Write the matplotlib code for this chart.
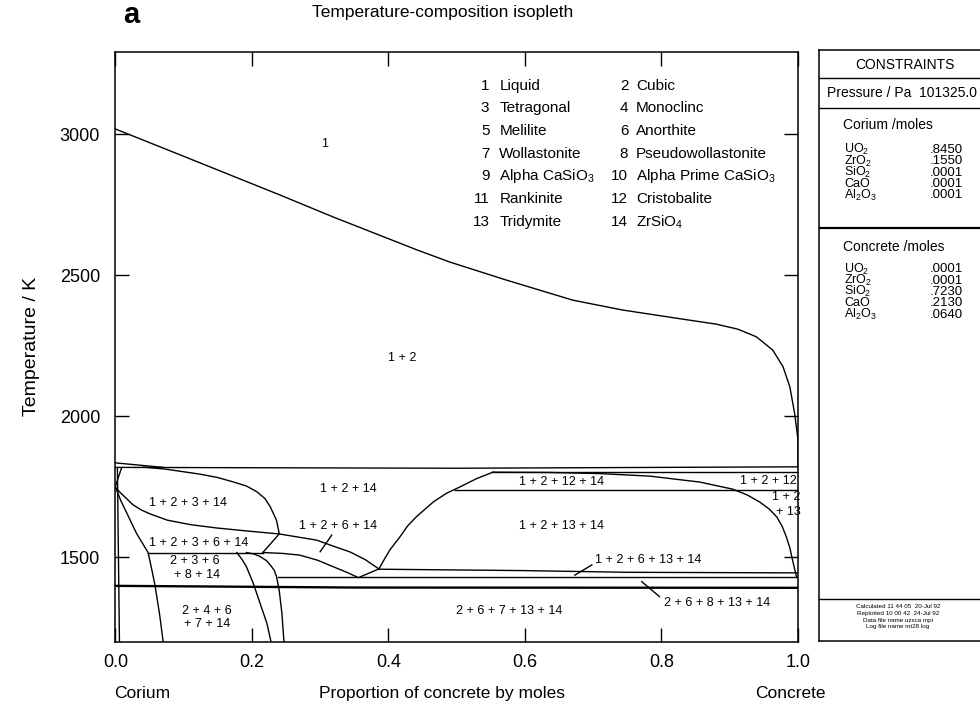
import matplotlib.pyplot as plt

plt.rcParams['font.family'] = ['Liberation Sans', 'DejaVu Sans']
plt.rcParams['mathtext.fontset'] = 'custom'
plt.rcParams['mathtext.rm'] = 'Liberation Sans'
plt.rcParams['mathtext.it'] = 'Liberation Sans'

# phase boundaries: proportion of concrete (x) vs temperature / K
liquidus_x = [0.0, 0.095, 0.241, 0.319, 0.442, 0.490, 0.573, 0.670, 0.743, 0.841, 0.880, 0.912,
              0.939, 0.963, 0.978, 0.988, 0.995, 1.0, 1.0]
liquidus_T = [3018, 2926, 2784, 2706, 2589, 2546, 2482, 2411, 2376, 2340, 2326, 2308,
              2281, 2234, 2175, 2104, 2010, 1915, 1818]

top_x = [0.0, 0.5, 1.0]
top_T = [1818, 1815, 1820]
sliver_x = [0.0, 0.07]
sliver_T = [1834, 1818]
cristo_top_x = [0.553, 1.0]
cristo_top_T = [1801, 1801]
cristo_bot_x = [0.497, 1.0]
cristo_bot_T = [1739, 1739]
anorth_x = [0.386, 0.6, 0.75, 1.0]
anorth_T = [1457, 1452, 1446, 1444]
pseudo_x = [0.238, 1.0]
pseudo_T = [1428, 1428]
solidus_x = [0.0, 0.35, 1.0]
solidus_T = [1398, 1392, 1391]
tetra_x = [0.048, 0.216]
tetra_T = [1516, 1516]

dome13_x = [0.386, 0.394, 0.402, 0.417, 0.428, 0.441, 0.466, 0.485, 0.505, 0.529, 0.553]
dome13_T = [1458, 1492, 1525, 1572, 1610, 1643, 1696, 1726, 1749, 1778, 1801]
right_x = [0.553, 0.636, 0.710, 0.783, 0.856, 0.904, 0.925, 0.944, 0.958, 0.969, 0.977, 0.983,
           0.988, 0.992, 0.998]
right_T = [1801, 1800, 1796, 1787, 1766, 1741, 1721, 1695, 1670, 1642, 1608, 1571, 1533, 1489, 1428]

dome3_top_x = [0.041, 0.073, 0.124, 0.150, 0.172, 0.192, 0.207, 0.219, 0.227, 0.236, 0.240]
dome3_top_T = [1819, 1812, 1794, 1782, 1767, 1752, 1732, 1708, 1678, 1631, 1584]
dome3_bot_x = [0.0, 0.007, 0.014, 0.026, 0.038, 0.051, 0.076, 0.110, 0.149, 0.195, 0.240, 0.295,
               0.319, 0.344, 0.366, 0.386]
dome3_bot_T = [1748, 1729, 1713, 1685, 1667, 1653, 1631, 1615, 1603, 1592, 1582, 1560,
               1539, 1518, 1491, 1458]
left_x = [0.0, 0.008, 0.017, 0.031, 0.048, 0.053, 0.058, 0.065, 0.070]
left_T = [1749, 1700, 1655, 1584, 1516, 1460, 1401, 1294, 1200]
tie_x = [0.216, 0.240]
tie_T = [1516, 1582]
an_low_x = [0.216, 0.245, 0.270, 0.296, 0.319, 0.340, 0.356, 0.386]
an_low_T = [1516, 1513, 1507, 1489, 1466, 1445, 1427, 1458]
curveA_x = [0.178, 0.186, 0.192, 0.202, 0.212, 0.222, 0.228]
curveA_T = [1516, 1490, 1466, 1407, 1336, 1265, 1200]
curveB_x = [0.192, 0.203, 0.212, 0.221, 0.227, 0.233, 0.236, 0.240, 0.244, 0.247]
curveB_T = [1516, 1511, 1502, 1488, 1472, 1452, 1431, 1383, 1300, 1200]
edge_x = [0.003, 0.006]
edge_T = [1815, 1200]
edge2_x = [0.009, 0.004, 0.0]
edge2_T = [1815, 1780, 1749]

# pointer lines for small fields
pointers = [([0.300, 0.317], [1519, 1578]),
            ([0.673, 0.698], [1436, 1472]),
            ([0.771, 0.797], [1413, 1360])]

# region labels
region_text = ['1', '1 + 2', '1 + 2 + 14', '1 + 2 + 3 + 14', '1 + 2 + 6 + 14', '1 + 2 + 3 + 6 + 14',
               '2 + 3 + 6', '+ 8 + 14', '2 + 4 + 6', '+ 7 + 14', '1 + 2 + 12 + 14', '1 + 2 + 13 + 14',
               '2 + 6 + 7 + 13 + 14', '2 + 6 + 8 + 13 + 14', '1 + 2 + 12', '1 + 2', '+ 13']
region_x = [0.307, 0.420, 0.341, 0.107, 0.326, 0.122, 0.117, 0.119, 0.134, 0.134, 0.654, 0.654,
            0.577, 0.881, 0.956, 0.983, 0.986]
region_T = [2963, 2206, 1740, 1693, 1610, 1551, 1487, 1436, 1310, 1261, 1765, 1610,
            1309, 1336, 1771, 1712, 1661]

phase_num1 = ['1', '3', '5', '7', '9', '11', '13']
phase_name1 = ['Liquid', 'Tetragonal', 'Melilite', 'Wollastonite', r'Alpha CaSiO$_3$', 'Rankinite', 'Tridymite']
phase_num2 = ['2', '4', '6', '8', '10', '12', '14']
phase_name2 = ['Cubic', 'Monoclinc', 'Anorthite', 'Pseudowollastonite', r'Alpha Prime CaSiO$_3$',
               'Cristobalite', r'ZrSiO$_4$']

oxides = [r'UO$_2$', r'ZrO$_2$', r'SiO$_2$', 'CaO', r'Al$_2$O$_3$']
corium_moles = ['.8450', '.1550', '.0001', '.0001', '.0001']
concrete_moles = ['.0001', '.0001', '.7230', '.2130', '.0640']
footer = ['Calculated 11 44 05  20-Jul 92', 'Replotted 10 00 42  24-Jul 92',
          'Data file name uzsca mpi', 'Log file name mt28 log']

fig = plt.figure(figsize=(9.8, 7.06), dpi=100)
ax = fig.add_axes([0.1177, 0.0911, 0.6966, 0.8357])

thin = [(liquidus_x, liquidus_T), (top_x, top_T), (sliver_x, sliver_T),
        (cristo_top_x, cristo_top_T), (cristo_bot_x, cristo_bot_T), (anorth_x, anorth_T),
        (pseudo_x, pseudo_T), (tetra_x, tetra_T), (dome13_x, dome13_T), (right_x, right_T),
        (dome3_top_x, dome3_top_T), (dome3_bot_x, dome3_bot_T), (left_x, left_T), (tie_x, tie_T),
        (an_low_x, an_low_T), (curveA_x, curveA_T), (curveB_x, curveB_T),
        (edge_x, edge_T), (edge2_x, edge2_T)]
for xs, ts in thin + pointers:
    ax.plot(xs, ts, color='black', lw=1.0, solid_joinstyle='round')
ax.plot(solidus_x, solidus_T, color='black', lw=1.7)

for t, x, T in zip(region_text, region_x, region_T):
    ax.text(x, T, t, fontsize=9, ha='center', va='center')
ax.text(0.702, 1489, '1 + 2 + 6 + 13 + 14', fontsize=9, ha='left', va='center')

# phase key
for i in range(len(phase_num1)):
    yf = 0.9426 - i * 0.0385
    ax.text(0.548, yf, phase_num1[i], fontsize=11, ha='right', va='center', transform=ax.transAxes)
    ax.text(0.5625, yf, phase_name1[i], fontsize=11, ha='left', va='center', transform=ax.transAxes)
    ax.text(0.7514, yf, phase_num2[i], fontsize=11, ha='right', va='center', transform=ax.transAxes)
    ax.text(0.7627, yf, phase_name2[i], fontsize=11, ha='left', va='center', transform=ax.transAxes)

ax.set_xlim(0, 1)
ax.set_ylim(1200, 3292)
ax.set_xticks([0.0, 0.2, 0.4, 0.6, 0.8, 1.0])
ax.set_xticklabels(['0.0', '0.2', '0.4', '0.6', '0.8', '1.0'])
ax.set_yticks([1500, 2000, 2500, 3000])
ax.tick_params(direction='in', length=10, width=1, top=True, right=True, labelsize=13)
ax.tick_params(axis='x', pad=9)
ax.tick_params(axis='y', pad=11)
for s in ax.spines.values():
    s.set_linewidth(1.1)

ax.set_ylabel('Temperature / K', fontsize=14)
ax.yaxis.set_label_coords(-0.11, 0.5)
ax.text(0.039, -0.087, 'Corium', fontsize=12.5, ha='center', va='center', transform=ax.transAxes)
ax.text(0.4785, -0.087, 'Proportion of concrete by moles', fontsize=12.5, ha='center', va='center',
        transform=ax.transAxes)
ax.text(0.989, -0.087, 'Concrete', fontsize=12.5, ha='center', va='center', transform=ax.transAxes)

fig.text(0.452, 0.983, 'Temperature-composition isopleth', fontsize=12.5, ha='center', va='center')
fig.text(0.134, 0.979, 'a', fontsize=21, fontweight='bold', ha='center', va='center')

# constraints panel
pn = fig.add_axes([0.836, 0.0921, 0.176, 0.8371])
pn.set_xticks([])
pn.set_yticks([])
for s in pn.spines.values():
    s.set_linewidth(1.1)
for yl, lw in [(0.953, 1.0), (0.901, 1.0), (0.698, 1.6), (0.0705, 1.0)]:
    pn.axhline(yl, color='black', lw=lw)
pn.set_xlim(0, 1)
pn.set_ylim(0, 1)
pn.text(0.496, 0.975, 'CONSTRAINTS', fontsize=10, ha='center', va='center')
pn.text(0.043, 0.927, 'Pressure / Pa  101325.0', fontsize=10, ha='left', va='center')
pn.text(0.137, 0.873, 'Corium /moles', fontsize=10, ha='left', va='center')
pn.text(0.137, 0.667, 'Concrete /moles', fontsize=10, ha='left', va='center')
for i in range(len(oxides)):
    y1 = 0.831 - i * 0.0192
    y2 = 0.629 - i * 0.0192
    pn.text(0.143, y1, oxides[i], fontsize=9, ha='left', va='center')
    pn.text(0.833, y1, corium_moles[i], fontsize=9.5, ha='right', va='center')
    pn.text(0.143, y2, oxides[i], fontsize=9, ha='left', va='center')
    pn.text(0.833, y2, concrete_moles[i], fontsize=9.5, ha='right', va='center')
for i, line in enumerate(footer):
    pn.text(0.456, 0.058 - i * 0.0113, line, fontsize=4.5, ha='center', va='center')

fig.savefig('out.png', dpi=100)
